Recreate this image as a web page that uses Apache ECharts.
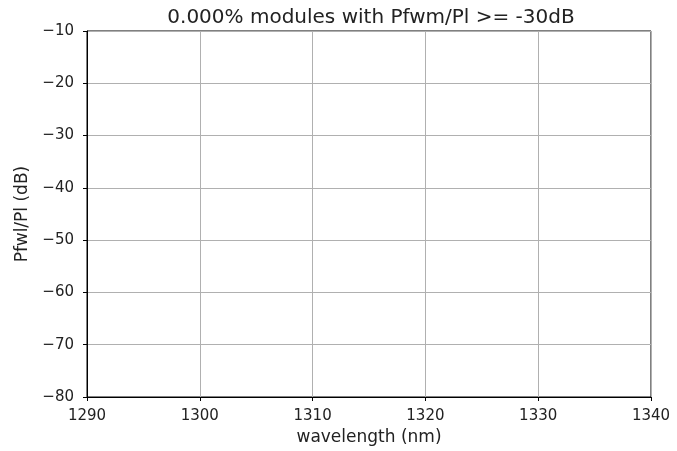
<!DOCTYPE html>
<html>
<head>
<meta charset="utf-8">
<script src="https://cdn.jsdelivr.net/npm/echarts@6/dist/echarts.min.js"></script>
<style>
  html, body { margin: 0; padding: 0; background: #fff; }
  #chart { width: 677px; height: 451px; }
</style>
</head>
<body>
<div id="chart"></div>
<script>
// 数据：图里没有任何曲线，只有坐标轴
var xTicks = [1290, 1300, 1310, 1320, 1330, 1340]
var yTicks = [-80, -70, -60, -50, -40, -30, -20, -10]
var pfwmValues = []   // [wavelength, dB] 对，参考图里为空
var titleText = '0.000% modules with Pfwm/Pl >= -30dB'

var font = 'DejaVu Sans'
var minus = function (v) { return String(v).replace('-', '\u2212') }

var chart = echarts.init(document.getElementById('chart'))
var options = {
    animation: false,
    title: {
        text: titleText,
        left: 366,
        top: 3,
        textAlign: 'center',
        textStyle: { fontFamily: font, fontSize: 20, fontWeight: 'normal', color: '#222' }
    },
    grid: {
        left: 87,
        right: 26,
        top: 31,
        bottom: 53,
        show: true,
        borderColor: '#000',
        borderWidth: 1,
        backgroundColor: 'transparent'
    },
    xAxis: {
        type: 'value',
        min: xTicks[0],
        max: xTicks[xTicks.length - 1],
        interval: 10,
        name: 'wavelength (nm)',
        nameLocation: 'middle',
        nameGap: 32,
        nameTextStyle: { fontFamily: font, fontSize: 17, color: '#222' },
        axisLine: { show: true, lineStyle: { color: '#000', width: 1 } },
        axisTick: { show: true, inside: false, length: 4, lineStyle: { color: '#000' } },
        axisLabel: { fontFamily: font, fontSize: 15, color: '#222', margin: 12, formatter: function (v) { return String(v) } },
        splitLine: { show: true, lineStyle: { color: '#b0b0b0', width: 1 } }
    },
    yAxis: {
        type: 'value',
        min: yTicks[0],
        max: yTicks[yTicks.length - 1],
        interval: 10,
        name: 'Pfwl/Pl (dB)',
        nameLocation: 'middle',
        nameGap: 52,
        nameTextStyle: { fontFamily: font, fontSize: 17, color: '#222' },
        axisLine: { show: true, lineStyle: { color: '#000', width: 1 } },
        axisTick: { show: true, inside: false, length: 4, lineStyle: { color: '#000' } },
        axisLabel: { fontFamily: font, fontSize: 15, color: '#222', margin: 13, formatter: minus },
        splitLine: { show: true, lineStyle: { color: '#b0b0b0', width: 1 } }
    },
    series: [{
        type: 'line',
        data: pfwmValues,
        showSymbol: false,
        lineStyle: { color: '#1f77b4' }
    }]
}
chart.setOption(options)
</script>
</body>
</html>
